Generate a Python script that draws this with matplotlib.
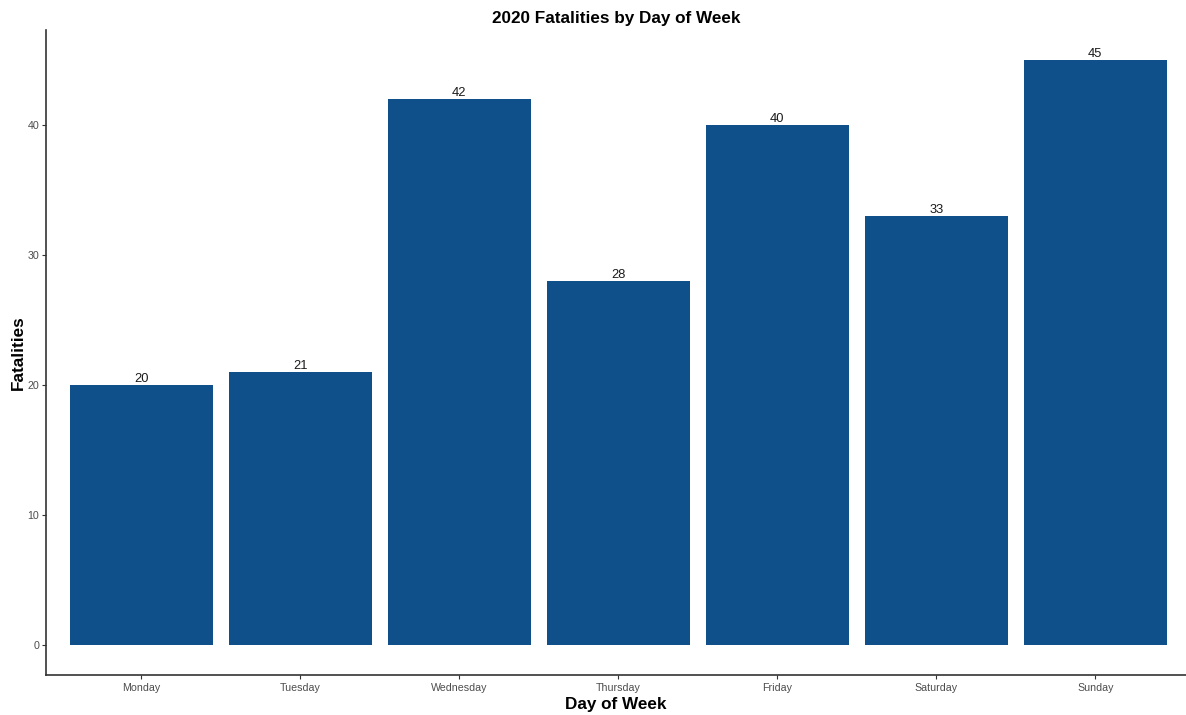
import matplotlib
matplotlib.use("Agg")
import matplotlib.pyplot as plt

days = ["Monday", "Tuesday", "Wednesday", "Thursday", "Friday", "Saturday", "Sunday"]
fatalities = [20, 21, 42, 28, 40, 33, 45]
yticks = [0, 10, 20, 30, 40]

plt.rcParams['font.family'] = ['Liberation Sans', 'DejaVu Sans']

W, H = 1186, 715
fig = plt.figure(figsize=(W / 100, H / 100), dpi=100)
left, right, top, bottom = 46, 1186, 30, 675
ax = fig.add_axes([left / W, 1 - bottom / H, (right - left) / W, (bottom - top) / H])

x = list(range(len(days)))
bars = ax.bar(x, fatalities, width=0.9, color="#0F4F8A")
for xi, v in zip(x, fatalities):
    ax.text(xi, v, str(v), ha="center", va="bottom", fontsize=9.3, color="#1a1a1a")

ax.set_xlim(-0.6, 6.57)
ax.set_ylim(-2.3, 47.3)
ax.set_xticks(x)
ax.set_xticklabels(days)
ax.set_yticks(yticks)
ax.tick_params(axis="both", labelsize=7.7, colors="#333333", labelcolor="#4d4d4d", length=3, width=0.8)
ax.tick_params(axis="y", pad=1.8)
ax.tick_params(axis="x", pad=3)

for s in ["top", "right"]:
    ax.spines[s].set_visible(False)
for s in ["left", "bottom"]:
    ax.spines[s].set_color("#333333")
    ax.spines[s].set_linewidth(1.2)

ax.set_title("2020 Fatalities by Day of Week", fontsize=12.3, fontweight="bold", pad=5)
ax.set_xlabel("Day of Week", fontsize=12.3, fontweight="bold", labelpad=3)
ax.set_ylabel("Fatalities", fontsize=12.3, fontweight="bold", labelpad=1)

fig.savefig("out.png", dpi=100)
